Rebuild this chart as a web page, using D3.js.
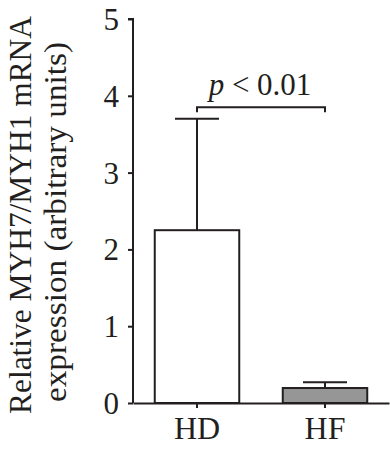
<!DOCTYPE html>
<html>
<head>
<meta charset="utf-8">
<script src="https://d3js.org/d3.v7.min.js"></script>
<style>
  body { margin: 0; background: #fff; }
  svg text { font-family: "Liberation Serif", "DejaVu Serif", serif; fill: #231f20; }
</style>
</head>
<body>
<div id="chart"></div>
<script>
var groups = ['HD', 'HF'];
var means = [2.25, 0.195];
var errTop = [3.7, 0.27];
var fills = ['#ffffff', '#969696'];
var yTicks = [0, 1, 2, 3, 4, 5];
var pLabel = '< 0.01';

var W = 390, H = 452;
var margin = { top: 19, right: 1, bottom: 49, left: 133 };
var ink = '#231f20';

var svg = d3.select('#chart').append('svg')
    .attr('width', W)
    .attr('height', H);

var g = svg.append('g')
    .attr('transform', 'translate(' + margin.left + ',' + margin.top + ')');

var width = W - margin.left - margin.right;
var height = H - margin.top - margin.bottom;

var xScale = d3.scaleBand()
    .domain(groups)
    .range([0, width])
    .paddingInner(0.34)
    .paddingOuter(0.17);

var yScale = d3.scaleLinear()
    .domain([0, 5])
    .range([height, 0]);

// bars
g.selectAll('.bar')
    .data(groups)
    .enter()
    .append('rect')
    .attr('class', 'bar')
    .attr('x', d => xScale(d))
    .attr('width', xScale.bandwidth())
    .attr('y', (d, i) => yScale(means[i]))
    .attr('height', (d, i) => height - yScale(means[i]))
    .attr('fill', (d, i) => fills[i])
    .attr('stroke', ink)
    .attr('stroke-width', 2);

// error bars (upper only)
var capHalf = 22;
groups.forEach((d, i) => {
    var cx = xScale(d) + xScale.bandwidth() / 2;
    g.append('line')
        .attr('x1', cx).attr('x2', cx)
        .attr('y1', yScale(means[i])).attr('y2', yScale(errTop[i]))
        .attr('stroke', ink).attr('stroke-width', 2);
    g.append('line')
        .attr('x1', cx - capHalf).attr('x2', cx + capHalf)
        .attr('y1', yScale(errTop[i])).attr('y2', yScale(errTop[i]))
        .attr('stroke', ink).attr('stroke-width', 2);
});

// axes
var yAxis = g.append('g')
    .call(d3.axisLeft(yScale).tickValues(yTicks).tickSize(5).tickPadding(9).tickFormat(d3.format('d')));

var xAxis = g.append('g')
    .attr('transform', 'translate(0,' + height + ')')
    .call(d3.axisBottom(xScale).tickSize(5).tickPadding(8).tickSizeOuter(0));

[yAxis, xAxis].forEach(a => {
    a.select('.domain').attr('stroke', ink).attr('stroke-width', 2);
    a.selectAll('.tick line').attr('stroke', ink).attr('stroke-width', 2);
    a.selectAll('.tick text')
        .attr('font-family', '"Liberation Serif", serif')
        .attr('fill', ink);
});
yAxis.select('.domain').attr('d', 'M0,' + height + 'V0H-5');
yAxis.selectAll('.tick text').attr('font-size', 31).attr('dy', '0.34em');
xAxis.selectAll('.tick text').attr('font-size', 32).attr('y', 36).attr('dy', 0);

// significance bracket
var c0 = xScale('HD') + xScale.bandwidth() / 2;
var c1 = xScale('HF') + xScale.bandwidth() / 2;
var by = yScale(3.85);
g.append('path')
    .attr('d', 'M' + c0 + ',' + (by + 5) + 'V' + by + 'H' + c1 + 'V' + (by + 5))
    .attr('fill', 'none')
    .attr('stroke', ink)
    .attr('stroke-width', 2);

var pt = g.append('text')
    .attr('x', (c0 + c1) / 2 - 1)
    .attr('y', by - 12)
    .attr('text-anchor', 'middle')
    .attr('font-size', 31);
pt.append('tspan').attr('font-style', 'italic').text('p');
pt.append('tspan').text(' ' + pLabel);

// y label
var yl = svg.append('text')
    .attr('transform', 'translate(31,215) rotate(-90)')
    .attr('text-anchor', 'middle')
    .attr('font-size', 32);
yl.append('tspan').attr('x', 0).attr('dy', 0)
    .attr('textLength', 398).attr('lengthAdjust', 'spacingAndGlyphs')
    .text('Relative MYH7/MYH1 mRNA');
yl.append('tspan').attr('x', -7).attr('dy', 35)
    .attr('textLength', 360).attr('lengthAdjust', 'spacingAndGlyphs')
    .text('expression (arbitrary units)');
</script>
</body>
</html>
